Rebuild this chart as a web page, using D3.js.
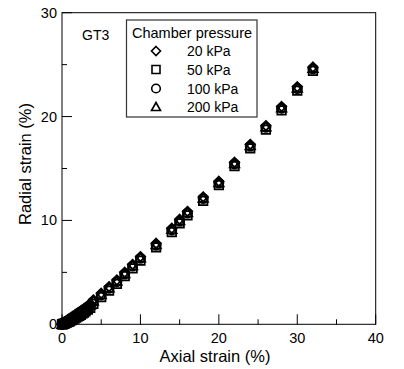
<!DOCTYPE html>
<html><head><meta charset="utf-8">
<script src="https://cdn.jsdelivr.net/npm/d3@7"></script>
<style>body{margin:0;background:#fff;} svg{display:block;font-family:"Liberation Sans",Arial,sans-serif;}</style>
</head><body>
<svg id="c" width="404" height="369"></svg>
<script>
const axial = [0,0.05,0.1,0.15,0.2,0.3,0.4,0.5,0.6,0.7,0.8,0.9,1.0,1.2,1.4,1.6,1.8,2.0,2.2,2.4,2.6,2.8,3.0,3.3,3.6,4,5,6,7,8,9,10,12,14,15,16,18,20,22,24,26,28,30,32];
const radial20  = [0,0.04,0.07,0.10,0.13,0.18,0.23,0.28,0.34,0.40,0.45,0.50,0.56,0.67,0.77,0.88,0.98,1.08,1.18,1.28,1.39,1.50,1.61,1.78,1.96,2.34,2.98,3.62,4.26,5.00,5.76,6.51,7.79,9.24,10.10,10.86,12.26,13.76,15.59,17.32,19.12,20.96,22.86,24.76];
const radial50  = [0,0.01,0.02,0.03,0.04,0.07,0.10,0.13,0.17,0.21,0.24,0.27,0.31,0.39,0.47,0.56,0.64,0.73,0.82,0.92,1.02,1.13,1.24,1.41,1.59,1.97,2.61,3.25,3.89,4.63,5.39,6.14,7.42,8.87,9.73,10.49,11.89,13.39,15.22,16.95,18.75,20.59,22.49,24.39];
const radial100 = [0,0.02,0.04,0.06,0.08,0.12,0.16,0.20,0.25,0.30,0.34,0.38,0.43,0.53,0.62,0.72,0.82,0.92,1.02,1.12,1.23,1.34,1.45,1.62,1.80,2.18,2.82,3.46,4.10,4.84,5.60,6.35,7.63,9.08,9.94,10.70,12.10,13.60,15.43,17.16,18.96,20.80,22.70,24.60];
const radial200 = [0,0.03,0.05,0.07,0.10,0.14,0.18,0.23,0.28,0.33,0.37,0.41,0.47,0.57,0.66,0.76,0.86,0.96,1.06,1.16,1.27,1.38,1.50,1.67,1.85,2.23,2.87,3.51,4.15,4.89,5.65,6.40,7.68,9.13,9.99,10.75,12.15,13.65,15.48,17.21,19.01,20.85,22.75,24.65];
const seriesNames = ["20 kPa","50 kPa","100 kPa","200 kPa"];
const seriesSymbols = ["diamond","square","circle","triangle"];
const xTicks = [0,10,20,30,40];
const yTicks = [0,10,20,30];
const xMinor = [5,15,25,35];
const yMinor = [5,15,25];

const svg = d3.select("#c");
const L=62, R=375.7, T=12.7, B=324.3;
const x = d3.scaleLinear().domain([0,40]).range([L,R]);
const y = d3.scaleLinear().domain([0,30]).range([B,T]);

function symPath(type, s){
  const h=s/2;
  if(type==="diamond") return `M0,${-h-0.5}L${h+0.5},0L0,${h+0.5}L${-h-0.5},0Z`;
  if(type==="square") return `M${-h},${-h}H${h}V${h}H${-h}Z`;
  if(type==="circle") return `M${h+0.3},0A${h+0.3},${h+0.3} 0 1,1 ${-h-0.3},0A${h+0.3},${h+0.3} 0 1,1 ${h+0.3},0Z`;
  return `M0,${-h-0.5}L${h+0.5},${h-0.5}L${-h-0.5},${h-0.5}Z`;
}

// frame
svg.append("rect").attr("x",L).attr("y",T).attr("width",R-L).attr("height",B-T)
  .attr("fill","none").attr("stroke","#000").attr("stroke-width",1);

// ticks
const g = svg.append("g").attr("stroke","#000").attr("stroke-width",1);
xTicks.forEach(v=>g.append("line").attr("x1",x(v)).attr("x2",x(v)).attr("y1",B).attr("y2",B-10));
xMinor.forEach(v=>g.append("line").attr("x1",x(v)).attr("x2",x(v)).attr("y1",B).attr("y2",B-5));
yTicks.forEach(v=>g.append("line").attr("y1",y(v)).attr("y2",y(v)).attr("x1",L).attr("x2",L+10));
yMinor.forEach(v=>g.append("line").attr("y1",y(v)).attr("y2",y(v)).attr("x1",L).attr("x2",L+5));

// tick labels
svg.append("g").selectAll("text").data(xTicks).join("text")
  .attr("x",d=>x(d)).attr("y",B+19).attr("text-anchor","middle")
  .attr("font-size",14.5).text(d=>d);
svg.append("g").selectAll("text").data(yTicks).join("text")
  .attr("x",L-5).attr("y",d=>y(d)+5).attr("text-anchor","end")
  .attr("font-size",14.5).text(d=>d);

// axis titles
svg.append("text").attr("x",215).attr("y",362).attr("text-anchor","middle")
  .attr("font-size",16.5).text("Axial strain (%)");
svg.append("text").attr("transform",`translate(31,164) rotate(-90)`)
  .attr("text-anchor","middle").attr("font-size",16.5).text("Radial strain (%)");

// GT3 label
svg.append("text").attr("x",82).attr("y",40).attr("font-size",14).text("GT3");

// data
const allSeries = [radial20, radial50, radial100, radial200];
allSeries.forEach((vals,i)=>{
  svg.append("g").selectAll("path").data(axial.map((a,j)=>[a,vals[j]])).join("path")
    .attr("transform",d=>`translate(${x(d[0])},${y(d[1])})`)
    .attr("d",symPath(seriesSymbols[i],8.5))
    .attr("fill","none").attr("stroke","#000").attr("stroke-width",1.8);
});

// legend
const lg = svg.append("g");
lg.append("rect").attr("x",126.5).attr("y",20).attr("width",130.5).attr("height",97)
  .attr("fill","#fff").attr("stroke","#333").attr("stroke-width",1.2);
lg.append("text").attr("x",132).attr("y",38).attr("font-size",14.5).text("Chamber pressure");
const rowY = [51,69.5,88.5,107];
seriesNames.forEach((n,i)=>{
  lg.append("path").attr("transform",`translate(156,${rowY[i]})`)
    .attr("d",symPath(seriesSymbols[i],8)).attr("fill","none").attr("stroke","#000").attr("stroke-width",1.6);
  lg.append("text").attr("x",187).attr("y",rowY[i]+5).attr("font-size",14).text(n);
});
</script>
</body></html>
